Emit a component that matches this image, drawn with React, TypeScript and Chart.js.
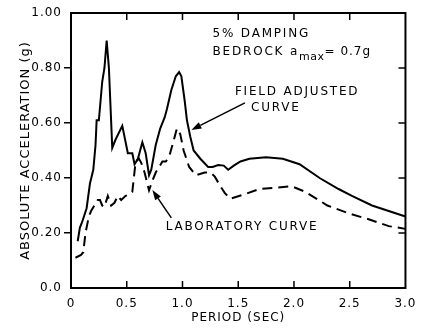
import React, { useEffect, useRef } from 'react';
import { Chart, registerables } from 'chart.js';
Chart.register(...registerables);

// Field adjusted curve (solid)
const fieldPeriod = [0.06, 0.08, 0.10, 0.14, 0.17, 0.20, 0.22, 0.23, 0.25, 0.28, 0.30, 0.32, 0.34, 0.37, 0.40, 0.46, 0.51, 0.55, 0.57, 0.60, 0.64, 0.67, 0.70, 0.72, 0.76, 0.80, 0.84, 0.86, 0.90, 0.94, 0.97, 0.99, 1.02, 1.04, 1.07, 1.10, 1.16, 1.23, 1.27, 1.32, 1.37, 1.41, 1.46, 1.52, 1.60, 1.75, 1.90, 2.05, 2.23, 2.40, 2.52, 2.70, 2.85, 3.00];
const fieldAccel = [0.17, 0.22, 0.24, 0.29, 0.38, 0.43, 0.52, 0.61, 0.61, 0.75, 0.80, 0.90, 0.80, 0.51, 0.54, 0.59, 0.49, 0.49, 0.45, 0.47, 0.53, 0.49, 0.41, 0.43, 0.52, 0.58, 0.62, 0.65, 0.72, 0.77, 0.785, 0.77, 0.68, 0.61, 0.55, 0.50, 0.47, 0.44, 0.44, 0.447, 0.445, 0.43, 0.445, 0.46, 0.47, 0.475, 0.47, 0.45, 0.40, 0.36, 0.335, 0.30, 0.28, 0.26];

// Laboratory curve (dashed)
const labPeriod = [0.04, 0.09, 0.11, 0.13, 0.16, 0.18, 0.21, 0.24, 0.26, 0.28, 0.30, 0.33, 0.36, 0.39, 0.42, 0.45, 0.49, 0.52, 0.55, 0.58, 0.61, 0.63, 0.66, 0.70, 0.73, 0.76, 0.79, 0.82, 0.85, 0.88, 0.91, 0.95, 0.98, 1.01, 1.06, 1.12, 1.20, 1.25, 1.29, 1.34, 1.38, 1.43, 1.55, 1.69, 1.85, 1.98, 2.10, 2.30, 2.50, 2.67, 2.85, 3.00];
const labAccel = [0.11, 0.12, 0.13, 0.20, 0.26, 0.28, 0.30, 0.32, 0.32, 0.30, 0.295, 0.335, 0.30, 0.31, 0.335, 0.32, 0.335, 0.34, 0.35, 0.46, 0.47, 0.455, 0.42, 0.355, 0.39, 0.42, 0.44, 0.46, 0.46, 0.477, 0.52, 0.58, 0.56, 0.50, 0.44, 0.41, 0.42, 0.42, 0.405, 0.37, 0.345, 0.325, 0.34, 0.36, 0.365, 0.37, 0.35, 0.30, 0.27, 0.25, 0.225, 0.215];

const xTickValues = [0, 0.5, 1, 1.5, 2, 2.5, 3];
const xTickLabels = ['0', '0.5', '1.0', '1.5', '2.0', '2.5', '3.0'];
const yTickValues = [0, 0.2, 0.4, 0.6, 0.8, 1];
const yTickLabels = ['0.0', '0.20', '0.40', '0.60', '0.80', '1.00'];

const xTitle = 'PERIOD (SEC)';
const yTitle = 'ABSOLUTE ACCELERATION (g)';

// Annotation texts, anchored in data units (left edge, vertical middle)
const noteTexts = ['5% DAMPING', 'FIELD ADJUSTED', 'CURVE', 'LABORATORY CURVE'];
const noteX = [1.27, 1.47, 1.615, 0.85];
const noteY = [0.924, 0.713, 0.655, 0.222];
const bedrockParts = ['BEDROCK a', 'max', '= 0.7g'];
const bedrockX = 1.27;
const bedrockY = 0.858;

// Arrows: tail -> tip, in data units
const arrowTailX = [1.56, 0.90];
const arrowTailY = [0.673, 0.255];
const arrowTipX = [1.08, 0.73];
const arrowTipY = [0.575, 0.356];

function labelFor(values: number[], labels: string[], v: number) {
  for (let i = 0; i < values.length; i++) if (Math.abs(values[i] - v) < 1e-6) return labels[i];
  return '';
}

const decor = {
  id: 'decor',
  beforeDraw(chart: any) {
    chart.ctx.letterSpacing = '1px';
  },
  afterDraw(chart: any) {
    const { ctx, chartArea: a, scales } = chart;
    const xs = scales.x, ys = scales.y;
    ctx.save();
    ctx.setLineDash([]);
    ctx.strokeStyle = '#000';
    ctx.fillStyle = '#000';
    ctx.lineWidth = 2;
    ctx.strokeRect(a.left, a.top, a.right - a.left, a.bottom - a.top);
    // inward ticks
    ctx.lineWidth = 1.5;
    const tl = 7;
    ctx.beginPath();
    for (const v of xTickValues) {
      if (v <= 0 || v >= 3) continue;
      const px = xs.getPixelForValue(v);
      ctx.moveTo(px, a.bottom); ctx.lineTo(px, a.bottom - tl);
      ctx.moveTo(px, a.top); ctx.lineTo(px, a.top + tl);
    }
    for (const v of yTickValues) {
      if (v <= 0 || v >= 1) continue;
      const py = ys.getPixelForValue(v);
      ctx.moveTo(a.right, py); ctx.lineTo(a.right - tl, py);
    }
    ctx.stroke();

    // annotation texts
    ctx.font = '12px "DejaVu Sans"';
    ctx.letterSpacing = '1.8px';
    ctx.textBaseline = 'middle';
    ctx.textAlign = 'left';
    noteTexts.forEach((t, i) => {
      ctx.fillText(t, xs.getPixelForValue(noteX[i]), ys.getPixelForValue(noteY[i]));
    });
    let bx = xs.getPixelForValue(bedrockX);
    const by = ys.getPixelForValue(bedrockY);
    ctx.fillText(bedrockParts[0], bx, by);
    bx += ctx.measureText(bedrockParts[0]).width;
    ctx.font = '11px "DejaVu Sans"';
    ctx.letterSpacing = '0.5px';
    ctx.fillText(bedrockParts[1], bx, by + 5);
    bx += ctx.measureText(bedrockParts[1]).width;
    ctx.font = '12px "DejaVu Sans"';
    ctx.letterSpacing = '1px';
    ctx.fillText(bedrockParts[2], bx, by);

    // arrows
    ctx.lineWidth = 1.5;
    for (let i = 0; i < arrowTipX.length; i++) {
      const x0 = xs.getPixelForValue(arrowTailX[i]), y0 = ys.getPixelForValue(arrowTailY[i]);
      const x1 = xs.getPixelForValue(arrowTipX[i]), y1 = ys.getPixelForValue(arrowTipY[i]);
      const ang = Math.atan2(y1 - y0, x1 - x0);
      const L = 10, W = 3.5;
      const bxp = x1 - L * Math.cos(ang), byp = y1 - L * Math.sin(ang);
      ctx.beginPath();
      ctx.moveTo(x0, y0); ctx.lineTo(bxp, byp);
      ctx.stroke();
      ctx.beginPath();
      ctx.moveTo(x1, y1);
      ctx.lineTo(bxp + W * Math.sin(ang), byp - W * Math.cos(ang));
      ctx.lineTo(bxp - W * Math.sin(ang), byp + W * Math.cos(ang));
      ctx.closePath();
      ctx.fill();
    }
    ctx.restore();
  },
};

export default function App() {
  const ref = useRef<HTMLCanvasElement | null>(null);
  useEffect(() => {
    if (!ref.current) return;
    Chart.defaults.font.family = '"DejaVu Sans"';
    Chart.defaults.font.size = 12;
    Chart.defaults.color = '#000';
    const chart = new Chart(ref.current, {
      type: 'line',
      data: {
        datasets: [
          {
            label: 'Field adjusted curve',
            data: fieldPeriod.map((p, i) => ({ x: p, y: fieldAccel[i] })),
            borderColor: '#000',
            borderWidth: 2,
            pointRadius: 0,
            tension: 0,
            fill: false,
          },
          {
            label: 'Laboratory curve',
            data: labPeriod.map((p, i) => ({ x: p, y: labAccel[i] })),
            borderColor: '#000',
            borderWidth: 2,
            borderDash: [10, 6],
            pointRadius: 0,
            tension: 0,
            fill: false,
          },
        ],
      },
      options: {
        responsive: false,
        animation: false,
        events: [],
        layout: { padding: { top: 13, right: 15, left: 0, bottom: 0 } },
        plugins: { legend: { display: false }, tooltip: { enabled: false } },
        scales: {
          x: {
            type: 'linear',
            min: 0,
            max: 3,
            afterFit: (s: any) => { s.height = 40; },
            afterBuildTicks: (s: any) => { s.ticks = xTickValues.map((v) => ({ value: v })); },
            ticks: {
              padding: 9,
              maxRotation: 0,
              autoSkip: false,
              color: '#000',
              callback: (v: any) => labelFor(xTickValues, xTickLabels, Number(v)),
            },
            grid: { display: true, drawOnChartArea: false, drawTicks: false },
            border: { display: false },
            title: { display: true, text: xTitle, color: '#000', padding: { top: 0, bottom: 3 }, font: { size: 12 } },
          },
          y: {
            type: 'linear',
            min: 0,
            max: 1,
            afterFit: (s: any) => { s.width = 71; },
            afterBuildTicks: (s: any) => { s.ticks = yTickValues.map((v) => ({ value: v })); },
            ticks: {
              padding: 2,
              color: '#000',
              callback: (v: any) => labelFor(yTickValues, yTickLabels, Number(v)),
            },
            grid: {
              drawOnChartArea: false,
              drawTicks: true,
              tickLength: 7,
              lineWidth: 1.5,
              color: (c: any) => (c.tick && (c.tick.value <= 0 || c.tick.value >= 1) ? 'rgba(0,0,0,0)' : '#000'),
            },
            border: { display: false },
            title: { display: true, text: yTitle, color: '#000', padding: { top: 18, bottom: 0 }, font: { size: 13 } },
          },
        },
      },
      plugins: [decor],
    } as any);
    return () => chart.destroy();
  }, []);
  return (
    <div style={{ position: 'absolute', left: 0, top: 0, width: 424, height: 328, background: '#fff' }}>
      <canvas ref={ref} width={424} height={328} />
    </div>
  );
}
